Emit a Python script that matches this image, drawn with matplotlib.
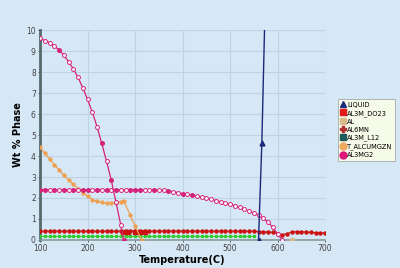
import matplotlib
matplotlib.use("Agg")
import matplotlib.pyplot as plt
from matplotlib.lines import Line2D

# ---- data ----
liq_t = [560, 567, 580]
liq_v = [0.0, 4.6, 17.0]

mg2a_t = [100, 110, 120, 130, 140, 150, 160, 170, 180, 190, 200, 210, 220,
          230, 240, 250, 260, 270, 276]
mg2a_v = [9.6, 9.5, 9.4, 9.25, 9.05, 8.8, 8.5, 8.15, 7.75, 7.25, 6.7, 6.1, 5.4,
          4.6, 3.75, 2.85, 1.8, 0.72, 0.0]

mg2b_t = list(range(100, 620, 10))
mg2b_v = [2.4] * 25 + [2.38, 2.36, 2.33, 2.3, 2.26, 2.21, 2.17, 2.13, 2.09, 2.04,
                       1.99, 1.94, 1.88, 1.82, 1.76, 1.7, 1.63, 1.55, 1.47, 1.38,
                       1.28, 1.17, 1.03, 0.85, 0.6, 0.3, 0.0]

zn_t = [100, 110, 120, 130, 140, 150, 160, 170, 180, 190, 200, 210, 220, 230,
        240, 250, 260, 270, 276, 290, 300, 314]
zn_v = [4.41, 4.13, 3.86, 3.59, 3.35, 3.08, 2.86, 2.65, 2.45, 2.25, 2.09, 1.92,
        1.84, 1.8, 1.75, 1.74, 1.78, 1.83, 1.88, 1.18, 0.68, 0.0]

do23_t = list(range(100, 710, 10))
do23_v = [0.42] * 46 + [0.4, 0.39, 0.38, 0.36, 0.3, 0.25, 0.3, 0.38, 0.4, 0.4,
                        0.38, 0.36, 0.35, 0.34, 0.33]

green_t = list(range(100, 560, 10))
green_v = [0.2] * len(green_t)

al_t = [610, 630, 700]
al_v = [0.0, 0.0, 0.0]

bg = "#d6e7f5"
fig = plt.figure(figsize=(4.0, 2.68), dpi=100, facecolor=bg)
ax = fig.add_axes([0.1, 0.1045, 0.7125, 0.7835], facecolor=bg)

ax.grid(True, color="#bfd3e6", linewidth=0.8)
ax.set_axisbelow(True)

mag = "#d4237a"
ax.plot(green_t, green_v, color="#33cc33", marker="s", markersize=2.0, lw=0.8, zorder=3)
ax.plot(al_t, al_v, color="#a0a0a0", lw=1.0, zorder=2)
ax.plot([630], [0], color="#d9b98a", marker="s", markersize=3, ls="none", zorder=4)
ax.plot(do23_t, do23_v, color="#cc1111", marker="o", markersize=2.2, lw=0.8, zorder=3)
ax.plot([275, 285, 300, 310, 320], [0.4, 0.4, 0.4, 0.4, 0.4], color="#cc1111",
        marker="s", markersize=3.0, ls="none", zorder=3)
ax.plot(zn_t, zn_v, color="#eea050", marker="o", markersize=2.1, lw=0.9, zorder=4)
ax.plot(mg2b_t, mg2b_v, color=mag, marker="o", markersize=2.8, lw=0.9,
        markerfacecolor="white", markeredgewidth=0.7, zorder=5)
ax.plot(mg2b_t, mg2b_v, color=mag, marker="o", markersize=2.0, ls="none",
        markevery=[0, 1, 3, 5, 7, 9, 10, 12, 14, 16, 19, 20, 21, 24, 27, 30, 32], zorder=6)
ax.plot(mg2a_t, mg2a_v, color=mag, marker="o", markersize=2.8, lw=0.9,
        markerfacecolor="white", markeredgewidth=0.7, zorder=5)
ax.plot(mg2a_t, mg2a_v, color=mag, marker="o", markersize=2.0, ls="none",
        markevery=[4, 13, 15, 18], zorder=6)
ax.plot(liq_t, liq_v, color="#1a2a7a", marker="^", markersize=3.5, lw=1.0, zorder=7)

ax.set_xlim(100, 700)
ax.set_ylim(0, 10)
ax.set_xticks([100, 200, 300, 400, 500, 600, 700])
ax.set_yticks(range(0, 11))
ax.tick_params(labelsize=5.5, colors="#444444", length=1.5, width=0.6, pad=1.5)
for s in ("top", "right"):
    ax.spines[s].set_visible(False)
ax.spines["left"].set_color("#556b6b")
ax.spines["left"].set_linewidth(2)
ax.spines["bottom"].set_color("#8a9a9a")
ax.spines["bottom"].set_linewidth(1.2)
ax.set_xlabel("Temperature(C)", fontsize=7, fontweight="bold", labelpad=1.5)
ax.set_ylabel("Wt % Phase", fontsize=7, fontweight="bold", labelpad=2)

names = ["LIQUID", "AL3M_DO23", "AL", "AL6MN", "AL3M_L12", "T_ALCUMGZN", "AL3MG2"]
handles = [
    Line2D([], [], ls="none", marker="^", color="#1a2a7a", markersize=4),
    Line2D([], [], ls="none", marker="s", color="#e31a1a", markersize=5),
    Line2D([], [], ls="none", marker="s", color="#d9b98a", markersize=5),
    Line2D([], [], ls="none", marker="P", color="#b03030", markersize=4),
    Line2D([], [], ls="none", marker="s", color="#1f5a5a", markersize=5),
    Line2D([], [], ls="none", marker="o", color="#f0a860", markersize=5),
    Line2D([], [], ls="none", marker="o", color="#e0157a", markersize=5),
]
leg = fig.legend(handles, names, loc="upper left", bbox_to_anchor=(0.845, 0.63),
                 fontsize=4.8, frameon=True, fancybox=False, handlelength=0.8,
                 handletextpad=0.2, borderpad=0.4, labelspacing=0.3,
                 borderaxespad=0)
leg.get_frame().set_facecolor("#ffffe6")
leg.get_frame().set_edgecolor("#999999")
leg.get_frame().set_linewidth(0.6)

fig.savefig("out.png", dpi=100, facecolor=bg)
